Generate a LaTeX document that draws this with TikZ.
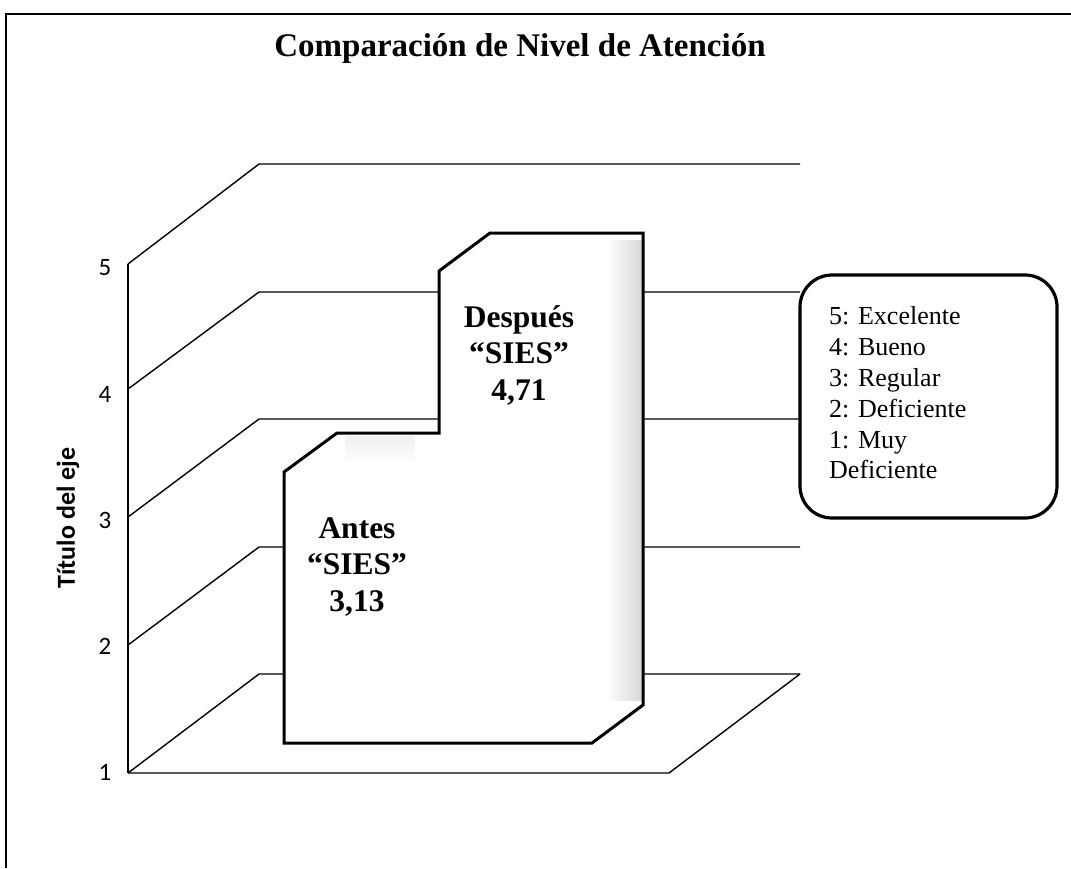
\documentclass[tikz,border=0pt]{standalone}
\usepackage{fontspec}
\setmainfont{Liberation Serif}
\newfontfamily\carl{Carlito}
\begin{document}
\begin{tikzpicture}[x=1pt,y=-1pt,
  gridline/.style={line width=1.4pt, line join=miter},
  barline/.style={line width=3pt, line join=miter},
  frameline/.style={line width=1.8pt},
  bartext/.style={align=center, font=\bfseries\fontsize{31.5}{36.5}\selectfont, inner sep=0pt},
  ticklab/.style={font=\carl\fontsize{25}{28}\selectfont, inner sep=0pt},
  legendbox/.style={line width=3.2pt, rounded corners=32pt, fill=white}]
\useasboundingbox (0,0) rectangle (1071,868);
% outer frame
\draw[frameline] (6,868) -- (6,14) -- (1071,14);
% title
\node[font=\bfseries\fontsize{33}{38}\selectfont] (title) at (520,49) {Comparación de Nivel de Atención};
% grid lines (front point / back point)
\foreach \f/\b in {264/164, 389/292, 517/419, 645/547, 773/674}
  \draw[gridline] (128,\f) -- (259,\b) -- (800,\b);
% left wall and floor
\draw[gridline] (128,264) -- (128,773);
\draw[gridline] (128,773) -- (669,773) -- (800,674);
% bars silhouette
\fill[white] (284,743) -- (284,472) -- (337,433) -- (439,433) -- (439,271) -- (490,233) -- (643,233) -- (643,705) -- (592,743) -- cycle;
\shade[left color=white, right color=gray!30] (605,240) rectangle (642,700);
\shade[top color=gray!12, bottom color=white] (345,436) rectangle (415,465);
\draw[barline] (284,743) -- (284,472) -- (337,433) -- (439,433) -- (439,271) -- (490,233) -- (643,233) -- (643,705) -- (592,743) -- cycle;
% bar labels
\node[bartext] (antes) at (357,567) {Antes\\“SIES”\\3,13};
\node[bartext] (despues) at (519,355) {Después\\“SIES”\\4,71};
% axis labels
\node[ticklab] (l5) at (105,268) {5};
\node[ticklab] (l4) at (105,394) {4};
\node[ticklab] (l3) at (105,520) {3};
\node[ticklab] (l2) at (105,646) {2};
\node[ticklab] (l1) at (105,772) {1};
\node[font=\carl\bfseries\fontsize{26}{30}\selectfont, rotate=90] (axtitle) at (68,518) {Título del eje};
% legend
\draw[legendbox] (800,275) rectangle (1057,518);
\node[anchor=west, align=left, inner sep=0pt, font=\fontsize{26}{30.8}\selectfont] (legend) at (829,393) {5: Excelente\\4: Bueno\\3: Regular\\2: Deficiente\\1: Muy\\Deficiente};
\end{tikzpicture}
\end{document}
